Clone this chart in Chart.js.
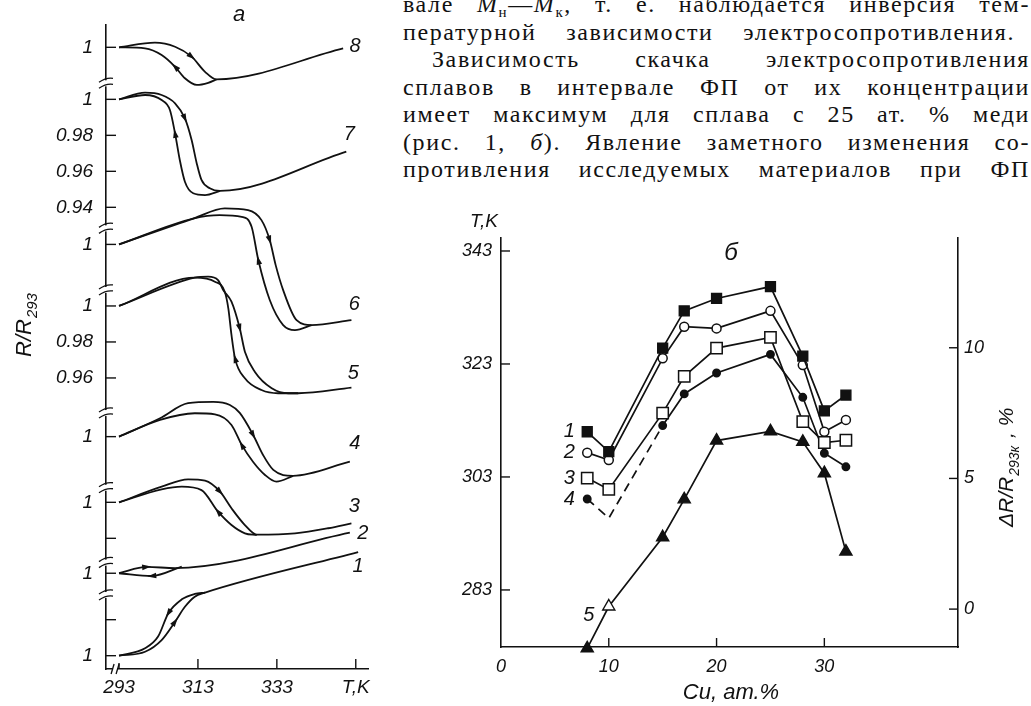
<!DOCTYPE html>
<html lang="ru"><head><meta charset="utf-8">
<script src="https://cdn.jsdelivr.net/npm/chart.js@4.4.1/dist/chart.umd.min.js"></script>
<style>
html,body{margin:0;padding:0;background:#fff;}
body{width:1031px;height:706px;overflow:hidden;position:relative;}
#ca{position:absolute;left:0;top:0;}
#cb{position:absolute;left:440px;top:195px;}
.ln{position:absolute;left:403px;width:627px;height:28px;font-family:"Liberation Serif",serif;font-size:24px;line-height:28px;text-align:justify;text-align-last:justify;color:#111;letter-spacing:1.6px;white-space:normal;}
.sb{font-size:15px;position:relative;top:5px;}
</style></head><body>
<div class="ln" style="top:-10px">вале <i>M</i><span class="sb">н</span>—<i>M</i><span class="sb">к</span>, т. е. наблюдается инверсия тем-</div>
<div class="ln" style="top:17.5px;width:612px">пературной зависимости электросопротивления.</div>
<div class="ln" style="top:45px;left:432px;width:598px">Зависимость скачка электросопротивления</div>
<div class="ln" style="top:72.5px">сплавов в интервале ФП от их концентрации</div>
<div class="ln" style="top:100px">имеет максимум для сплава с 25 ат. % меди</div>
<div class="ln" style="top:127.5px">(рис. 1, <i>б</i>). Явление заметного изменения со-</div>
<div class="ln" style="top:155px">противления исследуемых материалов при ФП</div>
<canvas id="ca" width="400" height="706"></canvas>
<canvas id="cb" width="591" height="511"></canvas>
<script>
const FAM = '"Liberation Sans", "DejaVu Sans", sans-serif';

// ================= Figure а : R/R293 vs T =================
const xTicksA = [293, 313, 333, 353];
const xTickLabelsA = ['293', '313', '333', 'T,K'];
const curveNames = ['1', '2', '3', '4', '5', '6', '7', '8'];

const c1HeatT = [293, 299.6, 303.8, 307.2, 309.7, 312.2, 314.8, 353.6];
const c1HeatR = [1.0, 1.0022, 1.0087, 1.0189, 1.0272, 1.0328, 1.0350, 1.0575];
const c1CoolT = [293, 299.6, 302.9, 305.5, 308.9, 312.2, 314.8];
const c1CoolR = [1.0, 1.0041, 1.0106, 1.0236, 1.0313, 1.0343, 1.0350];

const c2HeatT = [293, 300.0, 307.2, 351.5];
const c2HeatR = [1.0, 1.0035, 1.0029, 1.0226];
const c2CoolT = [293, 301.3, 308.9];
const c2CoolR = [1.0, 0.9985, 1.0037];

const c3HeatT = [293, 303.8, 310.5, 314.8, 318.6, 321.5, 324.9, 327.9, 337.6, 346.0, 351.9];
const c3HeatR = [1.0, 1.0087, 1.0128, 1.0120, 1.0059, 0.9967, 0.9874, 0.9821, 0.9828, 0.9856, 0.9883];
const c3CoolT = [293, 303.8, 308.9, 313.9, 318.1, 321.5, 324.9, 327.9];
const c3CoolR = [1.0, 1.0072, 1.0087, 1.0068, 0.9948, 0.9874, 0.9828, 0.9818];

const c4HeatT = [293, 303.4, 310.5, 316.9, 321.1, 323.6, 327.0, 329.5, 332.1, 337.1, 351.5];
const c4HeatR = [1.0, 1.0102, 1.0186, 1.0193, 1.0176, 1.0132, 1.0009, 0.9898, 0.9815, 0.9782, 0.9861];
const c4CoolT = [293, 303.4, 312.2, 317.3, 321.5, 324.1, 327.0, 330.0, 332.9, 337.1];
const c4CoolR = [1.0, 1.0093, 1.0130, 1.0124, 1.0065, 0.9954, 0.9859, 0.9787, 0.9750, 0.9782];

const c5HeatT = [293, 312.2, 315.6, 318.1, 319.4, 321.5, 323.6, 324.9, 327.4, 331.7, 335.9, 338.4, 351.9];
const c5HeatR = [1.0, 1.0157, 1.0163, 1.0144, 1.0089, 1.0024, 0.9876, 0.9746, 0.9635, 0.9543, 0.9515, 0.9515, 0.9546];
const c5CoolT = [293, 312.2, 317.3, 319.8, 320.7, 321.5, 322.4, 324.9, 329.1, 333.3, 338.4];
const c5CoolR = [1.0, 1.0157, 1.0135, 1.0079, 0.9987, 0.9839, 0.9709, 0.9598, 0.9533, 0.9515, 0.9515];

const c6HeatT = [293, 312, 319.8, 325.7, 329.1, 331.2, 332.7, 334.6, 338.0, 341.8, 351.9];
const c6HeatR = [1.0, 1.0145, 1.0200, 1.0191, 1.0135, 1.0024, 0.9885, 0.9746, 0.9579, 0.9552, 0.9579];
const c6CoolT = [293, 312, 318.5, 324.1, 326.6, 328.3, 331.2, 334.6, 337.6, 341.8];
const c6CoolR = [1.0, 1.0145, 1.0163, 1.0153, 1.0098, 0.9913, 0.9691, 0.9552, 0.9524, 0.9552];

const c7HeatT = [293, 299.6, 303.8, 307.2, 309.7, 311.4, 312.7, 313.9, 316.0, 318.6, 350.6];
const c7HeatR = [1.0, 1.0037, 1.0024, 0.9978, 0.9894, 0.9774, 0.9644, 0.9552, 0.9506, 0.9491, 0.9709];
const c7CoolT = [293, 299.6, 303.8, 305.9, 307.2, 308.4, 309.7, 311.8, 314.8, 318.6];
const c7CoolR = [1.0, 1.0024, 0.9996, 0.9941, 0.9811, 0.9663, 0.9542, 0.9478, 0.9468, 0.9491];

const c8HeatT = [293, 302.1, 307.2, 311.4, 314.8, 317.7, 349.8];
const c8HeatR = [1.0, 1.0026, 1.0003, 0.9948, 0.9864, 0.9822, 0.9994];
const c8CoolT = [293, 299.6, 303.8, 307.2, 309.7, 312.7, 315.6, 317.7];
const c8CoolR = [1.0, 0.9994, 0.9957, 0.9892, 0.9828, 0.9791, 0.9803, 0.9822];

// stacking (layout) of the 8 curves on the broken axis
const curveOffsets = [0.0074, 0.0532, 0.0926, 0.1291, 0.2017, 0.2359, 0.3165, 0.3454];
const extraTicksA = [[6, 0.98, '0.98'], [6, 0.96, '0.96'], [6, 0.94, '0.94'], [4, 0.98, '0.98'], [4, 0.96, '0.96'], [2, 0.98, ''], [0, 1.02, '']];
const axisBreaksA = [0.0411, 0.0591, 0.1007, 0.1422, 0.2106, 0.2448, 0.3254];
const heatArrowIdx = [3, 1, 4, 6, 6, 5, 4, 3];
const coolArrowIdx = [3, 1, 4, 5, 6, 5, 4, 3];
const labelOffsetsA = [[0, 14], [13, 1], [3, -17], [5, -18], [2, -14], [3, -16], [3, -17], [12, -2]];

const heatT = [c1HeatT, c2HeatT, c3HeatT, c4HeatT, c5HeatT, c6HeatT, c7HeatT, c8HeatT];
const heatR = [c1HeatR, c2HeatR, c3HeatR, c4HeatR, c5HeatR, c6HeatR, c7HeatR, c8HeatR];
const coolT = [c1CoolT, c2CoolT, c3CoolT, c4CoolT, c5CoolT, c6CoolT, c7CoolT, c8CoolT];
const coolR = [c1CoolR, c2CoolR, c3CoolR, c4CoolR, c5CoolR, c6CoolR, c7CoolR, c8CoolR];

// ================= Figure б =================
const cuContent = [8, 10, 15, 17, 20, 25, 28, 30, 32];
const tempSeries1 = [311.0, 307.5, 325.8, 332.4, 334.6, 336.7, 324.4, 314.7, 317.5];
const tempSeries2 = [307.3, 306.0, 324.0, 329.6, 329.3, 332.4, 322.8, 311.0, 313.1];
const tempSeries3 = [302.8, 300.8, 314.3, 320.8, 325.8, 327.7, 312.8, 309.1, 309.5];
const tempSeries4 = [299.1, 295.7, 312.1, 317.7, 321.4, 324.7, 317.1, 307.2, 304.8];
const resistanceJump = [-1.5, 0.1, 2.75, 4.2, 6.45, 6.8, 6.4, 5.2, 2.2];
const xTicksB = [0, 10, 20, 30];
const yTicksB = [283, 303, 323, 343];
const y2TicksB = [0, 5, 10];
const seriesNamesB = ['1', '2', '3', '4', '5'];

// ---------- helpers ----------
function line(ctx, x1, y1, x2, y2) { ctx.beginPath(); ctx.moveTo(x1, y1); ctx.lineTo(x2, y2); ctx.stroke(); }
function arrowHead(ctx, x, y, dx, dy) {
  const L = Math.hypot(dx, dy) || 1, ux = dx / L, uy = dy / L, len = 9, wid = 2.8;
  ctx.beginPath();
  ctx.moveTo(x + ux * len / 2, y + uy * len / 2);
  ctx.lineTo(x - ux * len / 2 - uy * wid, y - uy * len / 2 + ux * wid);
  ctx.lineTo(x - ux * len / 2 + uy * wid, y - uy * len / 2 - ux * wid);
  ctx.closePath(); ctx.fill();
}

// ---------- Chart а ----------
const yTickListA = [];
curveOffsets.forEach(o => yTickListA.push({ v: o, label: '1' }));
extraTicksA.forEach(([k, r, lab]) => yTickListA.push({ v: r - 1 + curveOffsets[k], label: lab }));
yTickListA.sort((a, b) => a.v - b.v);

const dsA = [];
for (let k = 0; k < 8; k++) {
  const common = { borderColor: '#111', borderWidth: 1.8, pointRadius: 0, fill: false, cubicInterpolationMode: 'monotone' };
  dsA.push(Object.assign({ label: 'heat ' + curveNames[k], data: heatT[k].map((t, i) => ({ x: t, y: heatR[k][i] - 1 + curveOffsets[k] })) }, common));
  dsA.push(Object.assign({ label: 'cool ' + curveNames[k], data: coolT[k].map((t, i) => ({ x: t, y: coolR[k][i] - 1 + curveOffsets[k] })) }, common));
}

const plugA = {
  id: 'plugA',
  afterDraw(chart) {
    const { ctx, chartArea: ca, scales: { x, y } } = chart;
    ctx.save();
    ctx.strokeStyle = '#111'; ctx.fillStyle = '#111'; ctx.lineWidth = 1.4;
    yTickListA.forEach(t => { const py = y.getPixelForValue(t.v); line(ctx, ca.left, py, ca.left + 10, py); });
    xTicksA.forEach((v, i) => { const px = x.getPixelForValue(v); line(ctx, px, ca.bottom, px, ca.bottom - (i === 0 ? 6 : 10)); });
    // axis breaks
    axisBreaksA.forEach(v => {
      const py = y.getPixelForValue(v), px = ca.left;
      ctx.fillStyle = '#fff'; ctx.fillRect(px - 3, py - 3, 6, 6);
      ctx.strokeStyle = '#111'; ctx.lineWidth = 1.3;
      for (const d of [-3, 3]) {
        ctx.beginPath(); ctx.moveTo(px - 7, py + d + 2);
        ctx.quadraticCurveTo(px, py + d - 3, px + 7, py + d - 2); ctx.stroke();
      }
    });
    // x break near origin
    const bx = x.getPixelForValue(292);
    ctx.fillStyle = '#fff'; ctx.fillRect(bx - 2, ca.bottom - 2, 4, 4);
    ctx.strokeStyle = '#111';
    line(ctx, bx - 4, ca.bottom + 5, bx - 1, ca.bottom - 5);
    line(ctx, bx + 1, ca.bottom + 5, bx + 4, ca.bottom - 5);
    // arrows
    ctx.fillStyle = '#111';
    for (let k = 0; k < 8; k++) {
      const hm = chart.getDatasetMeta(2 * k).data, cm = chart.getDatasetMeta(2 * k + 1).data;
      let i = heatArrowIdx[k];
      arrowHead(ctx, hm[i].x, hm[i].y, hm[i + 1].x - hm[i - 1].x, hm[i + 1].y - hm[i - 1].y);
      i = coolArrowIdx[k];
      arrowHead(ctx, cm[i].x, cm[i].y, cm[i - 1].x - cm[i + 1].x, cm[i - 1].y - cm[i + 1].y);
    }
    // curve numbers
    ctx.font = 'italic 20px ' + FAM; ctx.textAlign = 'center'; ctx.textBaseline = 'middle';
    for (let k = 0; k < 8; k++) {
      const d = chart.getDatasetMeta(2 * k).data; const p = d[d.length - 1];
      ctx.fillText(curveNames[k], p.x + labelOffsetsA[k][0], p.y + labelOffsetsA[k][1]);
    }
    // panel letter
    ctx.font = 'italic 22px ' + FAM;
    ctx.fillText('a', 239, 15);
    // axis title R/R293
    ctx.save(); ctx.translate(31, 357); ctx.rotate(-Math.PI / 2);
    ctx.textAlign = 'left'; ctx.textBaseline = 'alphabetic';
    ctx.font = 'italic 22px ' + FAM; ctx.fillText('R/R', 0, 0);
    const w = ctx.measureText('R/R').width;
    ctx.font = 'italic 15px ' + FAM; ctx.fillText('293', w + 1, 6);
    ctx.restore();
    ctx.restore();
  }
};

new Chart(document.getElementById('ca'), {
  type: 'line',
  data: { datasets: dsA },
  options: {
    responsive: false, animation: false, devicePixelRatio: 1,
    layout: { padding: { top: 25, right: 32, left: 0, bottom: 0 } },
    plugins: { legend: { display: false }, tooltip: { enabled: false } },
    scales: {
      x: {
        type: 'linear', min: 289.7, max: 356.1,
        afterBuildTicks: s => { s.ticks = xTicksA.map(v => ({ value: v })); },
        afterFit: s => { s.height = 37; },
        grid: { display: false, drawTicks: false },
        border: { display: true, color: '#111', width: 1.6 },
        ticks: { autoSkip: false, maxRotation: 0, padding: 7, color: '#111', font: { family: FAM, size: 19, style: 'italic' }, callback: (v, i) => xTickLabelsA[i] }
      },
      y: {
        type: 'linear', min: 0, max: 0.3578,
        afterBuildTicks: s => { s.ticks = yTickListA.map(t => ({ value: t.v })); },
        afterFit: s => { s.width = 106; },
        grid: { display: false, drawTicks: false },
        border: { display: true, color: '#111', width: 1.6 },
        ticks: { autoSkip: false, padding: 13, color: '#111', font: { family: FAM, size: 19, style: 'italic' }, callback: (v, i) => yTickListA[i].label }
      }
    }
  },
  plugins: [plugA]
});

// ---------- Chart б ----------
const pts = (ys) => cuContent.map((c, i) => ({ x: c, y: ys[i] }));
const plugB = {
  id: 'plugB',
  afterDraw(chart) {
    const { ctx, chartArea: ca, scales: { x, y, y2 } } = chart;
    ctx.save();
    ctx.strokeStyle = '#111'; ctx.fillStyle = '#111'; ctx.lineWidth = 1.4;
    xTicksB.filter(v => v > 0).forEach(v => { const px = x.getPixelForValue(v); line(ctx, px, ca.bottom, px, ca.bottom - 9); });
    yTicksB.forEach(v => { const py = y.getPixelForValue(v); line(ctx, ca.left, py, ca.left + 9, py); });
    y2TicksB.forEach(v => { const py = y2.getPixelForValue(v); line(ctx, ca.right, py, ca.right - 9, py); });
    ctx.font = 'italic 20px ' + FAM; ctx.textAlign = 'center'; ctx.textBaseline = 'middle';
    for (let k = 0; k < 4; k++) {
      const p = chart.getDatasetMeta(k).data[0];
      ctx.fillText(seriesNamesB[k], p.x - 18, p.y);
    }
    const p5 = chart.getDatasetMeta(4).data[1];
    ctx.fillText(seriesNamesB[4], p5.x - 20, p5.y + 9);
    ctx.font = 'italic 24px ' + FAM;
    ctx.fillText('б', 291, 58);
    ctx.font = 'italic 19px ' + FAM;
    ctx.fillText('T,K', 44, 27);
    ctx.font = 'italic 22px ' + FAM;
    ctx.fillText('Cu, ат.%', 291, 498);
    // right axis title
    ctx.save(); ctx.translate(573, 332); ctx.rotate(-Math.PI / 2);
    ctx.textAlign = 'left'; ctx.textBaseline = 'alphabetic';
    ctx.font = 'italic 21px ' + FAM; ctx.fillText('ΔR/R', 0, 0);
    let w = ctx.measureText('ΔR/R').width;
    ctx.font = 'italic 14px ' + FAM; ctx.fillText('293к', w + 1, 6);
    w += ctx.measureText('293к').width + 3;
    ctx.font = 'italic 21px ' + FAM; ctx.fillText(' , %', w, 0);
    ctx.restore();
    ctx.restore();
  }
};

new Chart(document.getElementById('cb'), {
  type: 'line',
  data: {
    datasets: [
      { label: '1', data: pts(tempSeries1), yAxisID: 'y', borderColor: '#111', borderWidth: 1.7, pointStyle: 'rect', pointRadius: 7, pointBackgroundColor: '#111', pointBorderColor: '#111', pointBorderWidth: 1.4 },
      { label: '2', data: pts(tempSeries2), yAxisID: 'y', borderColor: '#111', borderWidth: 1.7, pointStyle: 'circle', pointRadius: 4.5, pointBackgroundColor: '#fff', pointBorderColor: '#111', pointBorderWidth: 1.5 },
      { label: '3', data: pts(tempSeries3), yAxisID: 'y', borderColor: '#111', borderWidth: 1.7, pointStyle: 'rect', pointRadius: 8, pointBackgroundColor: '#fff', pointBorderColor: '#111', pointBorderWidth: 1.5 },
      { label: '4', data: pts(tempSeries4), yAxisID: 'y', borderColor: '#111', borderWidth: 1.7, pointStyle: 'circle', pointRadius: cuContent.map((c, i) => i === 1 ? 0 : 3.6), pointBackgroundColor: '#111', pointBorderColor: '#111',
        segment: { borderDash: c => c.p0DataIndex < 2 ? [9, 6] : undefined } },
      { label: '5', data: pts(resistanceJump), yAxisID: 'y2', clip: false, borderColor: '#111', borderWidth: 1.7, pointStyle: 'triangle', pointRadius: 7, pointBackgroundColor: cuContent.map((c, i) => i === 1 ? '#fff' : '#111'), pointBorderColor: '#111', pointBorderWidth: 1.4 }
    ]
  },
  options: {
    responsive: false, animation: false, devicePixelRatio: 1,
    layout: { padding: { top: 43, right: 0, left: 0, bottom: 0 } },
    plugins: { legend: { display: false }, tooltip: { enabled: false } },
    elements: { line: { tension: 0 } },
    scales: {
      x: {
        type: 'linear', min: 0, max: 42.4,
        afterBuildTicks: s => { s.ticks = xTicksB.map(v => ({ value: v })); },
        afterFit: s => { s.height = 59; },
        grid: { display: false, drawTicks: false },
        border: { display: true, color: '#111', width: 1.6 },
        ticks: { autoSkip: false, maxRotation: 0, padding: 9, color: '#111', font: { family: FAM, size: 18, style: 'italic' } }
      },
      y: {
        type: 'linear', position: 'left', min: 272.9, max: 345.3,
        afterBuildTicks: s => { s.ticks = yTicksB.map(v => ({ value: v })); },
        afterFit: s => { s.width = 61; },
        grid: { display: false, drawTicks: false },
        border: { display: true, color: '#111', width: 1.6 },
        ticks: { autoSkip: false, padding: 9, color: '#111', font: { family: FAM, size: 18, style: 'italic' } }
      },
      y2: {
        type: 'linear', position: 'right', min: -1.45, max: 14.2,
        afterBuildTicks: s => { s.ticks = y2TicksB.map(v => ({ value: v })); },
        afterFit: s => { s.width = 73; },
        grid: { display: false, drawTicks: false },
        border: { display: true, color: '#111', width: 1.6 },
        ticks: { autoSkip: false, padding: 6, color: '#111', font: { family: FAM, size: 18, style: 'italic' } }
      }
    }
  },
  plugins: [plugB]
});
</script>
</body></html>
